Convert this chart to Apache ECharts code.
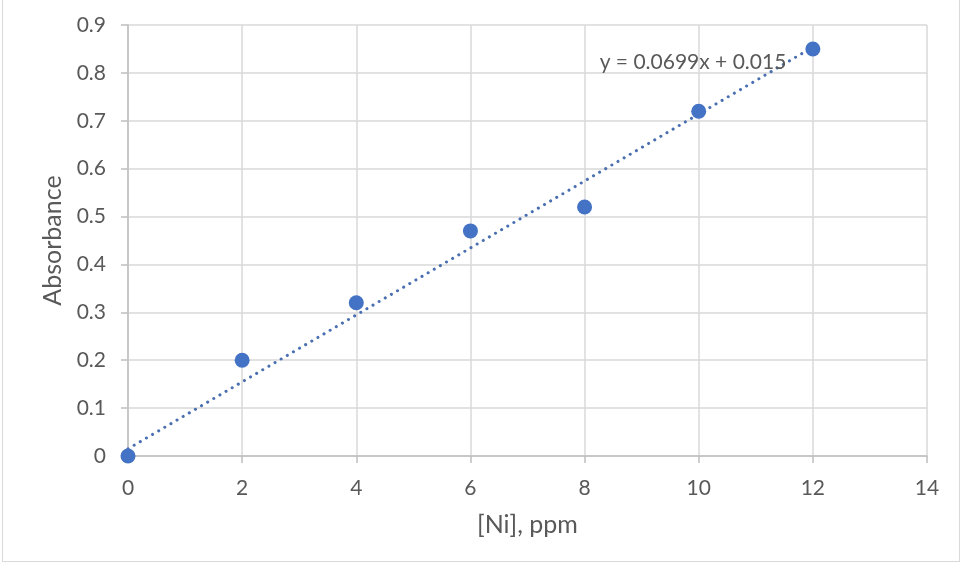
<!DOCTYPE html>
<html><head><meta charset="utf-8">
<script src="https://cdn.jsdelivr.net/npm/echarts@6/dist/echarts.min.js"></script>
<style>html,body{margin:0;padding:0;background:#fff;}
#wrap{position:absolute;left:2px;top:0;width:958px;height:562px;border:1px solid #d9d9d9;border-top:none;box-sizing:border-box;}
#c{position:absolute;left:0;top:0;width:962px;height:564px;}</style>
</head><body><div id="wrap"></div><div id="c"></div>
<script>
const concentrations = [0, 2, 4, 6, 8, 10, 12];
const absorbances = [0, 0.2, 0.32, 0.47, 0.52, 0.72, 0.85];
const trendSlope = 0.0699;
const trendIntercept = 0.015;
const trendLabel = 'y = 0.0699x + 0.015';
const xTitle = '[Ni], ppm';
const yTitle = 'Absorbance';

const pts = concentrations.map((x, i) => [x, absorbances[i]]);
const xMinT = concentrations[0], xMaxT = concentrations[concentrations.length - 1];
const trend = [[xMinT, trendSlope * xMinT + trendIntercept], [xMaxT, trendSlope * xMaxT + trendIntercept]];

const font = 'Lato, "Open Sans", sans-serif';
const chart = echarts.init(document.getElementById('c'));
chart.setOption({
  animation: false,
  grid: { left: 128, right: 35, top: 25, bottom: 108 },
  xAxis: {
    type: 'value', min: 0, max: 14, interval: 2,
    name: xTitle, nameLocation: 'middle', nameGap: 56,
    nameTextStyle: { color: '#595959', fontSize: 25, fontFamily: font },
    axisLine: { lineStyle: { color: '#bfbfbf', width: 1.5 } },
    axisTick: { show: true, length: 7, lineStyle: { color: '#bfbfbf', width: 1.5 } },
    axisLabel: { color: '#595959', fontSize: 21, fontFamily: font, margin: 22 },
    splitLine: { show: true, lineStyle: { color: '#d9d9d9', width: 1.5 } }
  },
  yAxis: {
    type: 'value', min: 0, max: 0.9, interval: 0.1,
    name: yTitle, nameLocation: 'middle', nameGap: 63,
    nameTextStyle: { color: '#595959', fontSize: 25, fontFamily: font },
    axisLine: { show: true, lineStyle: { color: '#bfbfbf', width: 1.5 } },
    axisTick: { show: true, length: 7, lineStyle: { color: '#bfbfbf', width: 1.5 } },
    axisLabel: { color: '#595959', fontSize: 21, fontFamily: font, margin: 22,
      formatter: v => (Math.round(v * 10) / 10).toString() },
    splitLine: { show: true, lineStyle: { color: '#d9d9d9', width: 1.5 } }
  },
  series: [
    {
      type: 'line', data: trend, symbol: 'none', z: 2,
      lineStyle: { color: '#4a6fb0', width: 3, type: [0.1, 7], cap: 'round' },
      markPoint: {
        symbol: 'circle', symbolSize: 0,
        data: [{ coord: [9.9, 0.823], value: trendLabel }],
        label: { show: true, formatter: trendLabel, color: '#595959', fontSize: 21, fontFamily: font, position: 'inside' }
      }
    },
    {
      type: 'scatter', data: pts, symbol: 'circle', symbolSize: 15, z: 3,
      itemStyle: { color: '#4472C4', opacity: 1 }
    }
  ]
});
</script></body></html>
